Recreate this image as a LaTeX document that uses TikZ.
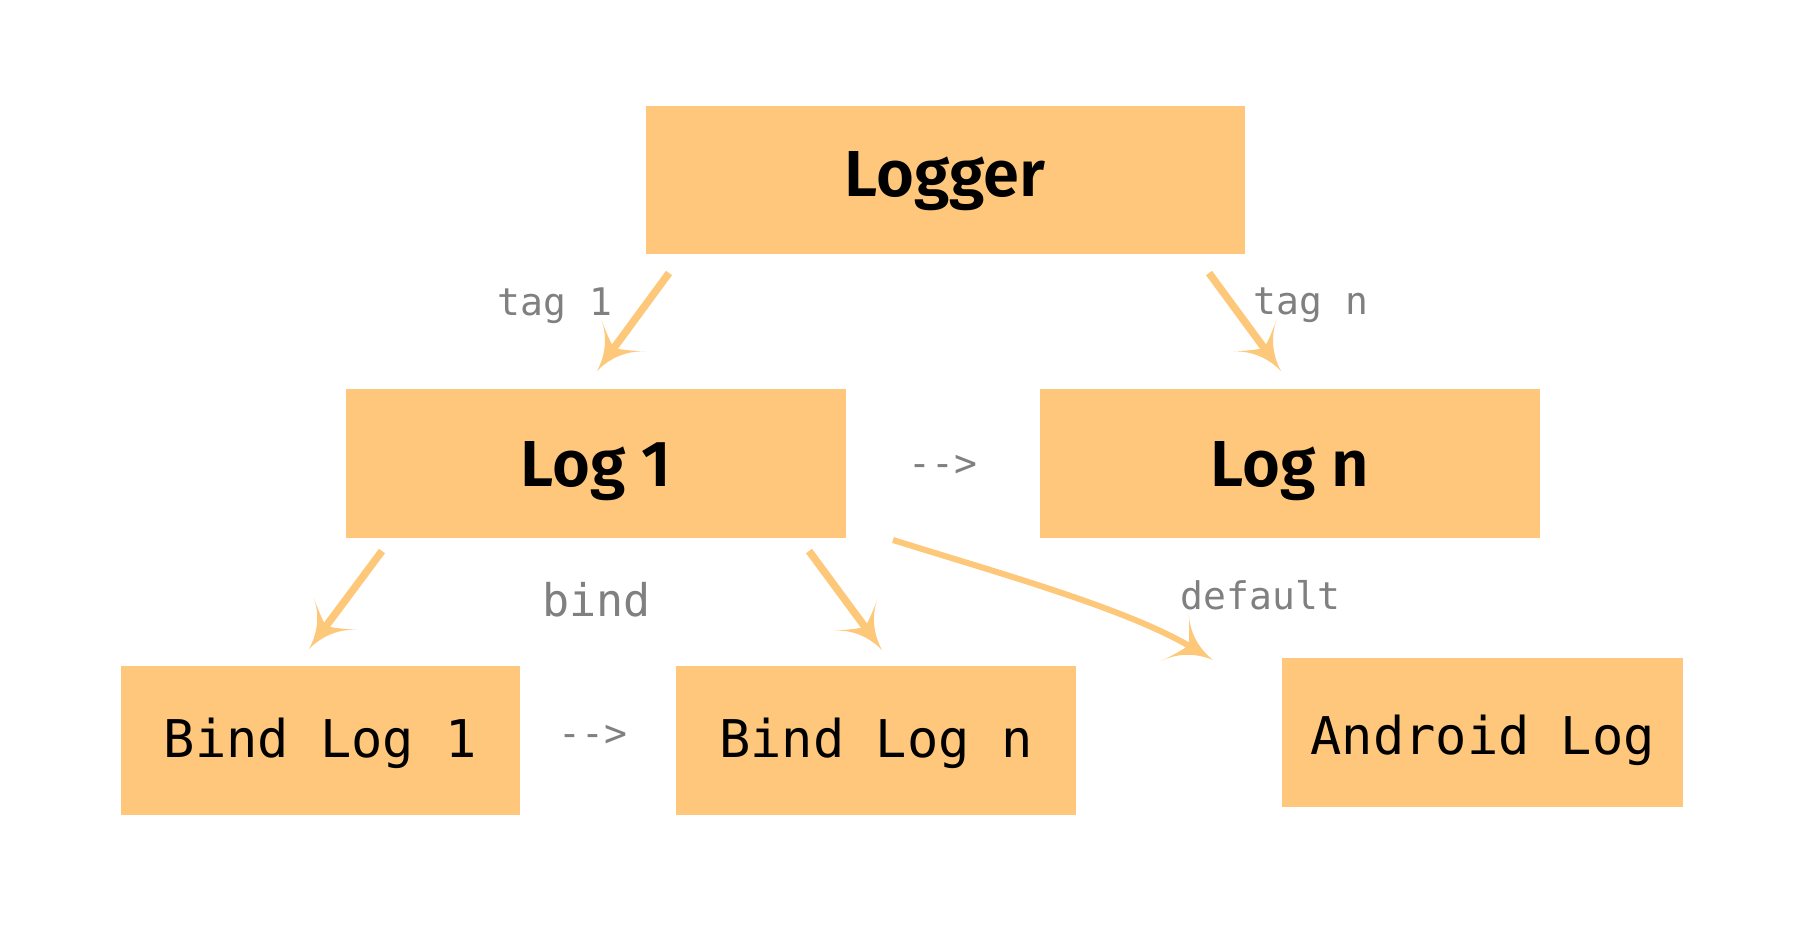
\documentclass[tikz,border=0pt]{standalone}
\usepackage{fontspec}
\IfFontExistsTF{Fira Sans SemiBold}
  {\setmainfont{Fira Sans}[BoldFont={Fira Sans SemiBold}]}
  {\setmainfont{Fira Sans}}
\newfontfamily\monofont{DejaVu Sans Mono}
\usetikzlibrary{arrows.meta}
\definecolor{boxc}{RGB}{254,199,123}
\definecolor{arrc}{RGB}{254,200,122}
\definecolor{labc}{RGB}{128,128,128}
\pgfdeclarearrow{
  name=Barbed,
  parameters={\the\pgfarrowlength,\the\pgfarrowwidth},
  setup code={
    \pgfarrowssettipend{0pt}
    \pgfarrowssetlineend{-0.6\pgfarrowlength}
    \pgfarrowssetbackend{-\pgfarrowlength}
    \pgfarrowssavethe\pgfarrowlength
    \pgfarrowssavethe\pgfarrowwidth
  },
  drawing code={
    \pgfpathmoveto{\pgfpointorigin}
    \pgfpathcurveto{\pgfqpoint{-0.45\pgfarrowlength}{0.05\pgfarrowwidth}}
                   {\pgfqpoint{-0.8\pgfarrowlength}{0.25\pgfarrowwidth}}
                   {\pgfqpoint{-\pgfarrowlength}{0.5\pgfarrowwidth}}
    \pgfpathcurveto{\pgfqpoint{-0.8\pgfarrowlength}{0.25\pgfarrowwidth}}
                   {\pgfqpoint{-0.7\pgfarrowlength}{0.1\pgfarrowwidth}}
                   {\pgfqpoint{-0.65\pgfarrowlength}{0pt}}
    \pgfpathcurveto{\pgfqpoint{-0.7\pgfarrowlength}{-0.1\pgfarrowwidth}}
                   {\pgfqpoint{-0.8\pgfarrowlength}{-0.25\pgfarrowwidth}}
                   {\pgfqpoint{-\pgfarrowlength}{-0.5\pgfarrowwidth}}
    \pgfpathcurveto{\pgfqpoint{-0.8\pgfarrowlength}{-0.25\pgfarrowwidth}}
                   {\pgfqpoint{-0.45\pgfarrowlength}{-0.05\pgfarrowwidth}}
                   {\pgfpointorigin}
    \pgfpathclose
    \pgfusepathqfill
  },
  defaults={length=44pt,width=54pt}
}
\begin{document}
\begin{tikzpicture}[x=1pt,y=-1pt,
  boxhead/.style={rectangle, fill=boxc, inner sep=0pt, text=black,
    font=\bfseries\fontsize{65}{78}\selectfont, text height=46pt, text depth=0pt},
  boxmono/.style={rectangle, fill=boxc, inner sep=0pt, text=black,
    font=\monofont\fontsize{52}{60}\selectfont, text height=35pt, text depth=0pt},
  lab/.style={inner sep=0pt, text=labc, font=\monofont\fontsize{38}{44}\selectfont},
  conn/.style={draw=arrc, line width=7.5pt, -{Barbed}}
]
\useasboundingbox (0,0) rectangle (1800,950);
\fill[white] (0,0) rectangle (1800,950);

\node[boxhead, text height=34pt, minimum width=599pt, minimum height=148pt] (logger) at (945,179.7) {Logger};
\node[boxhead, minimum width=500.5pt, minimum height=149pt] (log1) at (595.8,463.7) {Log 1};
\node[boxhead, minimum width=499.5pt, minimum height=149pt] (logn) at (1289.8,463.7) {Log n};
\node[boxmono, minimum width=399.5pt, minimum height=149pt] (bind1) at (320.3,740.4) {Bind Log 1};
\node[boxmono, minimum width=399.7pt, minimum height=149pt] (bindn) at (875.9,740.4) {Bind Log n};
\node[boxmono, text height=45pt, minimum width=400.7pt, minimum height=149pt] (android) at (1482.7,732.4) {Android Log};

\node[lab] (tag1) at (554.7,305.5) {tag 1};
\node[lab] (tagn) at (1310.8,305.5) {tag n};
\node[lab] (dots1) at (942.7,466) {-{}->};
\node[lab, font=\monofont\fontsize{45}{52}\selectfont] (bind) at (596.7,599.7) {bind};
\node[lab] (default) at (1260.8,595.7) {default};
\node[lab] (dots2) at (593,736) {-{}->};

\coordinate (a1s) at (669,273);
\coordinate (a1e) at (597,371);
\coordinate (a2s) at (1209,273);
\coordinate (a2e) at (1281,371);
\coordinate (a3s) at (382,551);
\coordinate (a3e) at (309,649);
\coordinate (a4s) at (809,551);
\coordinate (a4e) at (882,650);
\coordinate (a5s) at (893,540);
\coordinate (a5e) at (1213,660);

\draw[conn] (a1s) -- (a1e);
\draw[conn] (a2s) -- (a2e);
\draw[conn] (a3s) -- (a3e);
\draw[conn] (a4s) -- (a4e);
\draw[conn, line width=6pt] (a5s) .. controls (995,572) and (1125,608) .. (a5e);
\end{tikzpicture}
\end{document}
